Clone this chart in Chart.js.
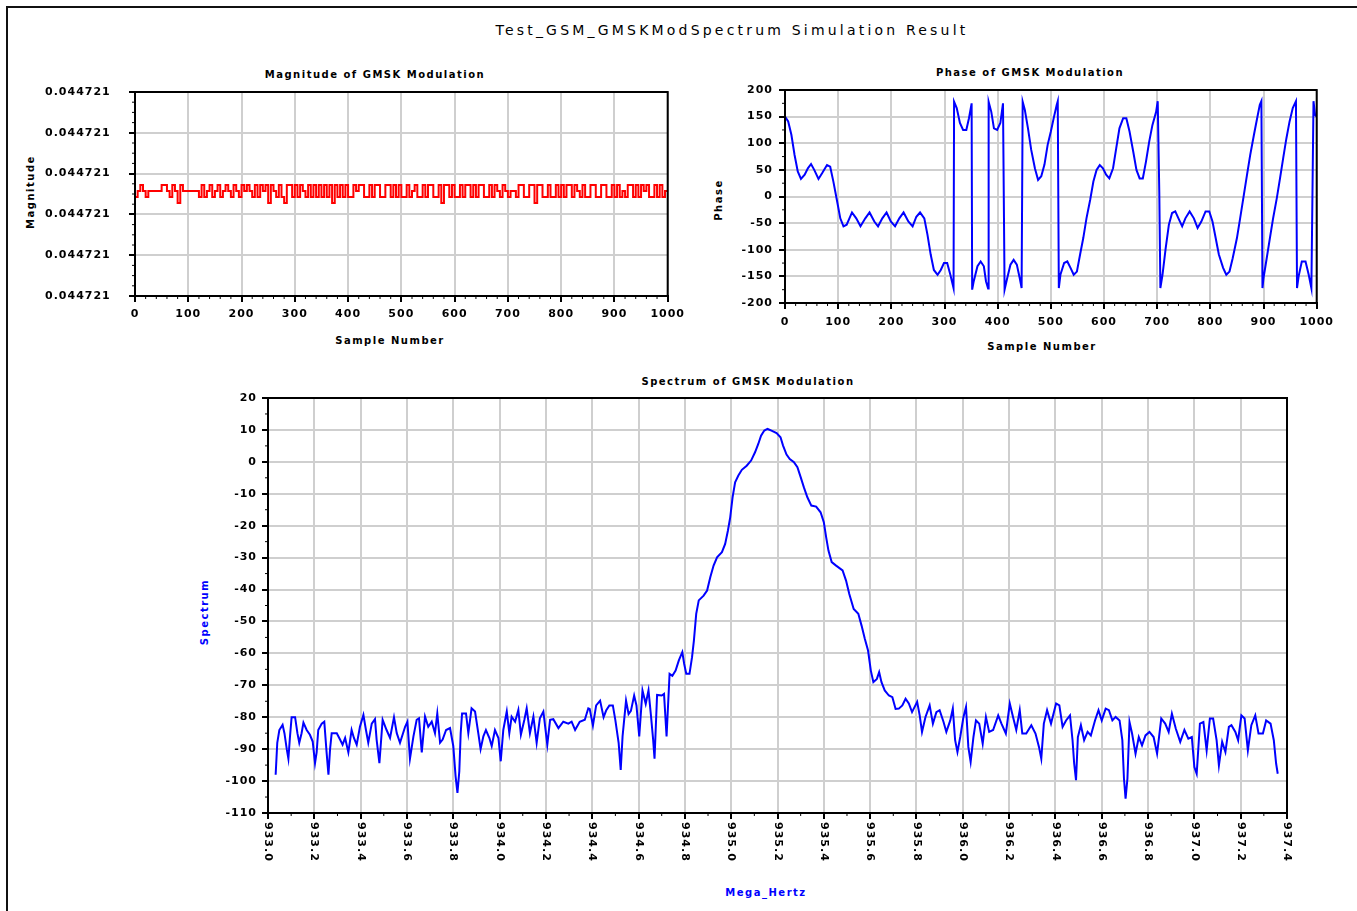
<!DOCTYPE html>
<html>
<head>
<meta charset="utf-8">
<script src="https://cdn.jsdelivr.net/npm/chart.js@4.4.1/dist/chart.umd.min.js"></script>
<style>
  body { margin: 0; background: #fff; width: 1357px; height: 911px; overflow: hidden; position: relative; font-family: "DejaVu Sans", sans-serif; }
  .frame { position: absolute; left: 6px; top: 6px; width: 1360px; height: 920px; border-left: 2px solid #111; border-top: 2px solid #111; }
  .txt { position: absolute; white-space: nowrap; font-weight: bold; font-size: 10px; letter-spacing: 1.5px; color: #000; transform: translate(-50%, -50%); }
  .vert { transform: translate(-50%, -50%) rotate(-90deg); }
  .main { font-size: 14px; font-weight: normal; letter-spacing: 3.2px; }
  .blue { color: #0000ff; }
  .box { position: absolute; }
</style>
</head>
<body>
<div class="frame"></div>
<div class="txt main" style="left:732px; top:30px;">Test_GSM_GMSKModSpectrum Simulation Result</div>

<div class="txt" style="left:375px; top:74px;">Magnitude of GMSK Modulation</div>
<div class="txt vert" style="left:30px; top:192px;">Magnitude</div>
<div class="txt" style="left:390px; top:340px;">Sample Number</div>

<div class="txt" style="left:1030px; top:72px;">Phase of GMSK Modulation</div>
<div class="txt vert" style="left:718px; top:200px;">Phase</div>
<div class="txt" style="left:1042px; top:346px;">Sample Number</div>

<div class="txt" style="left:748px; top:381px;">Spectrum of GMSK Modulation</div>
<div class="txt vert blue" style="left:204px; top:612px;">Spectrum</div>
<div class="txt blue" style="left:766px; top:892px;">Mega_Hertz</div>

<div class="box" style="left:45px; top:76px; width:644px; height:250px;"><canvas id="mag"></canvas></div>
<div class="box" style="left:715px; top:74px; width:624px; height:259px;"><canvas id="phase"></canvas></div>
<div class="box" style="left:198px; top:382px; width:1101px; height:491px;"><canvas id="spec"></canvas></div>

<script>
// ---- data ----
// magnitude: constant envelope with quantisation jitter, one level code per 5 samples
// '0' = base, 'u' = one step up, 'd' = one step down, 'D' = two steps down
const MAG_BASE = 0.0447213595;
const MAG_STEP = 1.47e-9;
const magLevels =
  "ud0u0d0000" + "0uu0du0Du0" + "00000dud0u" + "d0ud0u0du0" + "du0u0dudu0" +
  "uDu0dudDuu" + "dudu0dudud" + "ududuDudud" + "uddu0uuddu" + "duudduudud" +
  "uddud0uddu" + "duudduDuud" + "udduduudud" + "uuddudu0du" + "0d00duuddu" +
  "uDuudduddu" + "duduudu0du" + "dduudduudd" + "udud0duudu" + "du0uddudud" + "0";
const MAG_TICKS = [0.04472133375, 0.04472134375, 0.04472135375, 0.04472136375, 0.04472137375, 0.04472138375];
const MAG_TICK_LABELS = ["0.044721", "0.044721", "0.044721", "0.044721", "0.044721", "0.044721"];

const SAMPLE_TICKS = [0, 100, 200, 300, 400, 500, 600, 700, 800, 900, 1000];
const SAMPLE_TICK_LABELS = ["0", "100", "200", "300", "400", "500", "600", "700", "800", "900", "1000"];

// phase in degrees, wrapped to +-180
const phaseN = [0, 6, 12, 18, 24, 30, 37, 43, 49, 55, 63, 70, 79, 85, 91, 98, 104, 110, 116, 126,
  134, 142, 151, 159, 168, 175, 183, 191, 199, 207, 215, 223, 232, 240, 247, 254, 262, 268, 274, 280,
  287, 293, 299, 305, 311, 317, 318, 323, 329, 335, 341, 346, 351, 352, 355, 362, 368, 374, 378, 382,
  383, 388, 393, 399, 405, 410, 413, 418, 424, 430, 436, 442, 445, 447, 451, 457, 463, 470, 476, 482,
  488, 494, 500, 506, 511, 513, 515, 518, 525, 531, 537, 543, 549, 555, 561, 567, 574, 580, 586, 592,
  598, 604, 610, 617, 623, 629, 636, 642, 648, 655, 661, 667, 673, 679, 685, 691, 698, 701, 704, 706,
  710, 716, 722, 728, 734, 740, 747, 753, 761, 769, 776, 783, 791, 798, 804, 810, 816, 824, 830, 836,
  842, 850, 856, 863, 869, 875, 882, 888, 893, 896, 898, 900, 906, 912, 918, 925, 931, 937, 943, 949,
  955, 961, 963, 966, 972, 979, 985, 990, 992, 994, 997, 1000];
const phaseDeg = [150, 141, 116, 78, 47, 33, 41, 53, 61, 50, 33, 44, 59, 56, 28, -9, -41, -56, -53, -30,
  -41, -56, -41, -30, -47, -56, -41, -30, -47, -56, -41, -30, -47, -56, -38, -30, -41, -72, -109, -138,
  -147, -138, -125, -125, -147, -172, 178, 166, 138, 125, 125, 147, 175, -175, -159, -131, -122, -131, -159, -173,
  178, 159, 128, 125, 138, 175, -175, -153, -128, -119, -128, -156, -172, 178, 163, 128, 88, 53, 31, 38,
  60, 97, 122, 150, 172, 179, -172, -147, -125, -122, -134, -147, -141, -109, -78, -41, -6, 28, 50, 59,
  53, 41, 34, 53, 91, 128, 147, 147, 122, 84, 50, 34, 34, 66, 103, 134, 159, 179, 6, -172,
  -147, -97, -53, -31, -28, -41, -56, -41, -28, -41, -59, -47, -28, -28, -47, -78, -109, -134, -147, -141,
  -116, -78, -41, 3, 41, 78, 116, 147, 172, 179, -172, -153, -116, -78, -41, -3, 34, 72, 109, 141,
  166, 179, -172, -150, -122, -122, -147, -172, 3, 179, 153, 150];
const PHASE_TICKS = [-200, -150, -100, -50, 0, 50, 100, 150, 200];
const PHASE_TICK_LABELS = ["-200", "-150", "-100", "-50", "0", "50", "100", "150", "200"];

// power spectrum, dB against MHz
const specMHz = [933.033, 933.040, 933.049, 933.063, 933.071, 933.081, 933.088, 933.095, 933.102, 933.117,
  933.127, 933.135, 933.145, 933.153, 933.167, 933.181, 933.193, 933.203, 933.210, 933.217,
  933.232, 933.243, 933.253, 933.261, 933.268, 933.275, 933.297, 933.311, 933.322, 933.333,
  933.347, 933.361, 933.371, 933.383, 933.397, 933.412, 933.423, 933.433, 933.448, 933.462,
  933.469, 933.481, 933.495, 933.512, 933.527, 933.544, 933.556, 933.570, 933.592, 933.602,
  933.613, 933.628, 933.642, 933.652, 933.664, 933.678, 933.692, 933.707, 933.721, 933.731,
  933.743, 933.754, 933.769, 933.786, 933.800, 933.810, 933.818, 933.826, 933.832, 933.838,
  933.855, 933.865, 933.879, 933.894, 933.908, 933.918, 933.930, 933.941, 933.956, 933.966,
  933.980, 933.995, 934.005, 934.016, 934.031, 934.042, 934.052, 934.067, 934.081, 934.092,
  934.107, 934.117, 934.131, 934.146, 934.160, 934.174, 934.189, 934.206, 934.218, 934.232,
  934.254, 934.275, 934.297, 934.311, 934.326, 934.346, 934.368, 934.383,
  934.389, 934.403, 934.417, 934.434, 934.449, 934.460, 934.474, 934.489, 934.500, 934.514,
  934.523, 934.531, 934.546, 934.557, 934.567, 934.581, 934.591, 934.603, 934.617, 934.631,
  934.643, 934.653, 934.663, 934.669, 934.680, 934.700, 934.710, 934.721, 934.734, 934.746,
  934.760, 934.774, 934.789, 934.797, 934.806, 934.820, 934.831, 934.839, 934.849, 934.860,
  934.881, 934.896, 934.910, 934.924, 934.939, 934.960, 934.974, 934.986, 934.996, 935.006,
  935.017, 935.031, 935.046, 935.067, 935.086, 935.103, 935.117, 935.129, 935.143, 935.157,
  935.174, 935.196, 935.213, 935.224, 935.239, 935.253, 935.271, 935.286, 935.300, 935.314,
  935.329, 935.346, 935.367, 935.386, 935.400, 935.410, 935.420, 935.434, 935.453, 935.481,
  935.496, 935.510, 935.529, 935.549, 935.563, 935.577, 935.591, 935.603, 935.614, 935.629,
  935.639, 935.649, 935.663, 935.681, 935.696, 935.710,
  935.724, 935.739, 935.753, 935.767, 935.781, 935.803, 935.814, 935.824, 935.839, 935.857,
  935.871, 935.886, 935.900, 935.917, 935.929, 935.946, 935.957, 935.967, 935.977, 935.989,
  936.003, 936.014, 936.024, 936.034, 936.046, 936.057, 936.071, 936.086, 936.100, 936.114,
  936.131, 936.153, 936.167, 936.186, 936.203, 936.217, 936.231, 936.246, 936.257, 936.274,
  936.296, 936.314, 936.329, 936.339, 936.350, 936.364, 936.381, 936.403, 936.417, 936.431,
  936.446, 936.463, 936.474, 936.481, 936.489, 936.497, 936.510, 936.524, 936.539, 936.553,
  936.571, 936.586, 936.600, 936.617, 936.631, 936.646, 936.660, 936.677, 936.689, 936.696,
  936.703, 936.711, 936.720, 936.731, 936.746, 936.760, 936.774, 936.789, 936.806, 936.824,
  936.839, 936.857, 936.874, 936.889, 936.903, 936.920, 936.939, 936.957, 936.974, 936.989,
  937.000, 937.010, 937.024, 937.039, 937.053, 937.067, 937.081, 937.096, 937.106, 937.120,
  937.134, 937.149, 937.160, 937.177, 937.189, 937.203, 937.217, 937.231, 937.246, 937.263,
  937.277, 937.296, 937.310, 937.329, 937.343, 937.353, 937.360];
const specDb = [-98, -88, -84, -82.4, -85, -90, -93, -86, -80, -80,
  -85, -88, -85, -81.7, -84, -85.5, -87.6, -94.4, -91, -84,
  -82, -81.4, -91, -98, -90, -85, -85, -87, -88.6, -86.5,
  -91, -84, -86.5, -88.6, -83, -79.3, -84, -88, -82, -80.6,
  -87, -94.4, -80.8, -84, -86.5, -80, -85, -88, -83, -81.4,
  -93, -86, -80.8, -80.3, -91, -79.8, -83, -81.4, -85, -78.8,
  -88, -87, -84, -83.4, -89, -98.5, -103.7, -97, -85, -78.8,
  -78.8, -85, -77.2, -78.2, -85, -90, -86, -84, -86.5, -89,
  -84, -86.5, -93.8, -84, -78.2, -85, -79.8, -81.4, -77.7, -85.5,
  -80.8, -77.2, -85, -79.8, -88, -80.3, -78.2, -88.6, -80.8, -80.6,
  -83.4, -81.4, -82, -81.4, -84, -81.4, -80.8, -77.2,
  -77.4, -82.6, -76.3, -74.8, -80, -77.9, -76.3, -76.3, -81, -88,
  -96.5, -86, -74.8, -79, -78, -73.2, -76.3, -86, -71.6, -75.8,
  -71.6, -79, -87, -93, -73, -73.2, -72.7, -86, -66.4, -67,
  -65.4, -62.2, -59.6, -63.3, -66.4, -66.4, -61.2, -56, -47.6, -43.4,
  -41.9, -40.3, -36.1, -32.5, -29.9, -28.3, -25.7, -21.5, -17.3, -11.1,
  -6.4, -4.3, -2.5, -1.2, 0.4, 3, 5.6, 8.2, 9.8, 10.3,
  9.8, 9, 7.7, 5.1, 2.3, 0.9, -0.1, -1.7, -4.8, -8,
  -11.1, -13.7, -14, -15.8, -18.9, -23.6, -27.8, -31.4, -32.5, -34,
  -37.2, -41.4, -46.1, -47.6, -51.3, -55.4, -59.1, -65.4, -69, -68,
  -65.9, -69, -71.6, -73.2, -73.7, -77.4,
  -77.3, -76.3, -74.2, -75.7, -78.4, -75.2, -79.4, -84.6, -79.9, -76.3,
  -82, -78.4, -77.8, -81.5, -84.6, -81, -77.3, -87.2, -90.9, -86.2,
  -79.9, -76.8, -89.3, -94, -86.2, -81, -82, -88.3, -79.9, -84.6,
  -84, -79.4, -82, -85.1, -75.7, -79.9, -84, -77.8, -85.1, -85.1,
  -82.5, -85.1, -89.3, -93, -82, -77.8, -82, -75.7, -76.3, -83,
  -81, -79.4, -87.2, -94.5, -99.7, -86.2, -82.5, -87.2, -84.6, -85.7,
  -81, -77.8, -81, -77.3, -77.8, -81, -79.9, -81, -87.2, -99.2,
  -105.5, -99.2, -81.5, -85.1, -91.4, -86.2, -88.8, -85.7, -84.6, -86.2,
  -91.4, -80.4, -82, -84.6, -78.9, -83.6, -87.7, -84, -86.7, -86.2,
  -95.6, -97.7, -82, -81.5, -90.4, -80.4, -80.4, -87.2, -95.1, -87.7,
  -90.9, -83, -82.5, -84.6, -87.2, -79.4, -80.4, -90.4, -82.5, -79.4,
  -85.1, -85.1, -81, -82, -87.2, -94.5, -97.7];
const SPEC_DB_TICKS = [-110, -100, -90, -80, -70, -60, -50, -40, -30, -20, -10, 0, 10, 20];
const SPEC_DB_TICK_LABELS = ["-110", "-100", "-90", "-80", "-70", "-60", "-50", "-40", "-30", "-20", "-10", "0", "10", "20"];
const SPEC_MHZ_TICKS = [933.0, 933.2, 933.4, 933.6, 933.8, 934.0, 934.2, 934.4, 934.6, 934.8, 935.0, 935.2,
  935.4, 935.6, 935.8, 936.0, 936.2, 936.4, 936.6, 936.8, 937.0, 937.2, 937.4];
const SPEC_MHZ_TICK_LABELS = ["933.0", "933.2", "933.4", "933.6", "933.8", "934.0", "934.2", "934.4", "934.6",
  "934.8", "935.0", "935.2", "935.4", "935.6", "935.8", "936.0", "936.2", "936.4", "936.6", "936.8",
  "937.0", "937.2", "937.4"];

// ---- drawing helpers ----
const LEVEL = { '0': 0, 'u': 1, 'd': -1, 'D': -2 };
const magPoints = Array.from(magLevels, (c, i) => ({ x: i * 5, y: MAG_BASE + LEVEL[c] * MAG_STEP }));
const phasePoints = phaseN.map((n, i) => ({ x: n, y: phaseDeg[i] }));
const specPoints = specMHz.map((f, i) => ({ x: f, y: specDb[i] }));

const TICK_FONT = { family: "DejaVu Sans", size: 11, weight: 'bold' };

// box around the plot, small minor ticks, wide label spacing
const plotFrame = {
  id: 'plotFrame',
  beforeDraw(chart) { chart.ctx.letterSpacing = '1px'; },
  afterDraw(chart, args, opts) {
    const { ctx, chartArea: a, scales } = chart;
    ctx.save();
    ctx.strokeStyle = '#000';
    ctx.lineWidth = 1;
    ctx.beginPath();
    const minor = (scale, n, draw) => {
      const t = scale.ticks;
      for (let i = 0; i < t.length - 1; i++) {
        const p0 = scale.getPixelForValue(t[i].value), p1 = scale.getPixelForValue(t[i + 1].value);
        for (let k = 1; k <= n; k++) draw(p0 + (p1 - p0) * k / (n + 1));
      }
    };
    minor(scales.x, opts.xMinor || 0, p => { ctx.moveTo(p, a.bottom); ctx.lineTo(p, a.bottom + 3); });
    minor(scales.y, opts.yMinor || 0, p => { ctx.moveTo(a.left, p); ctx.lineTo(a.left - 3, p); });
    ctx.stroke();
    ctx.lineWidth = 2;
    ctx.strokeRect(a.left, a.top, a.right - a.left, a.bottom - a.top);
    if (opts.verticalLabels) {
      ctx.fillStyle = '#000';
      ctx.font = 'bold 11px "DejaVu Sans"';
      ctx.letterSpacing = '1px';
      ctx.textAlign = 'left';
      ctx.textBaseline = 'middle';
      scales.x.ticks.forEach((t, i) => {
        ctx.save();
        ctx.translate(scales.x.getPixelForValue(t.value), a.bottom + 9);
        ctx.rotate(Math.PI / 2);
        ctx.fillText(opts.verticalLabels[i], 0, 0);
        ctx.restore();
      });
    }
    ctx.restore();
  }
};

function xAxis(ticks, labels, min, max, height, pad, show) {
  return {
    type: 'linear', min: min, max: max,
    afterBuildTicks: s => { s.ticks = ticks.map(v => ({ value: v })); },
    afterFit: s => { s.height = height; },
    grid: { color: '#cfcfcf', lineWidth: 2, tickColor: '#000', tickLength: 6, tickWidth: 2 },
    border: { color: '#000', width: 2 },
    ticks: { display: show, color: '#000', font: TICK_FONT, padding: pad, maxRotation: 0, autoSkip: false,
      callback: (v, i) => labels[i] }
  };
}
function yAxis(ticks, labels, min, max, width, pad, cross) {
  return {
    type: 'linear', min: min, max: max,
    afterBuildTicks: s => { s.ticks = ticks.map(v => ({ value: v })); },
    afterFit: s => { s.width = width; },
    grid: { color: '#cfcfcf', lineWidth: 2, tickColor: '#000', tickLength: 6, tickWidth: 2 },
    border: { color: '#000', width: 2 },
    ticks: { color: '#000', font: TICK_FONT, padding: pad, autoSkip: false, crossAlign: cross || 'near',
      callback: (v, i) => labels[i] }
  };
}
function baseOptions(frame, scales) {
  return {
    responsive: true, maintainAspectRatio: false, animation: false, events: [],
    layout: { padding: { left: 0, top: 16, right: 12, bottom: 0 } },
    plugins: { legend: { display: false }, tooltip: { enabled: false }, plotFrame: frame },
    elements: { point: { radius: 0 } },
    scales: scales
  };
}

new Chart(document.getElementById('mag'), {
  type: 'line',
  data: { datasets: [{ data: magPoints, borderColor: '#ff0000', borderWidth: 2, stepped: 'after' }] },
  options: baseOptions({ xMinor: 4, yMinor: 3 }, {
    x: xAxis(SAMPLE_TICKS, SAMPLE_TICK_LABELS, 0, 1000, 30, 6, true),
    y: yAxis(MAG_TICKS, MAG_TICK_LABELS, MAG_TICKS[0], MAG_TICKS[MAG_TICKS.length - 1], 90, 3, 'far')
  }),
  plugins: [plotFrame]
});

new Chart(document.getElementById('phase'), {
  type: 'line',
  data: { datasets: [{ data: phasePoints, borderColor: '#0000ff', borderWidth: 2 }] },
  options: baseOptions({ xMinor: 4, yMinor: 1 }, {
    x: xAxis(SAMPLE_TICKS, SAMPLE_TICK_LABELS, 0, 1000, 30, 7, true),
    y: yAxis(PHASE_TICKS, PHASE_TICK_LABELS, -200, 200, 70, 6)
  }),
  plugins: [plotFrame]
});

new Chart(document.getElementById('spec'), {
  type: 'line',
  data: { datasets: [{ data: specPoints, borderColor: '#0000ff', borderWidth: 2 }] },
  options: baseOptions({ xMinor: 1, yMinor: 1, verticalLabels: SPEC_MHZ_TICK_LABELS }, {
    x: xAxis(SPEC_MHZ_TICKS, SPEC_MHZ_TICK_LABELS, 933.0, 937.4, 60, 6, false),
    y: yAxis(SPEC_DB_TICKS, SPEC_DB_TICK_LABELS, -110, 20, 70, 5)
  }),
  plugins: [plotFrame]
});
</script>
</body>
</html>
